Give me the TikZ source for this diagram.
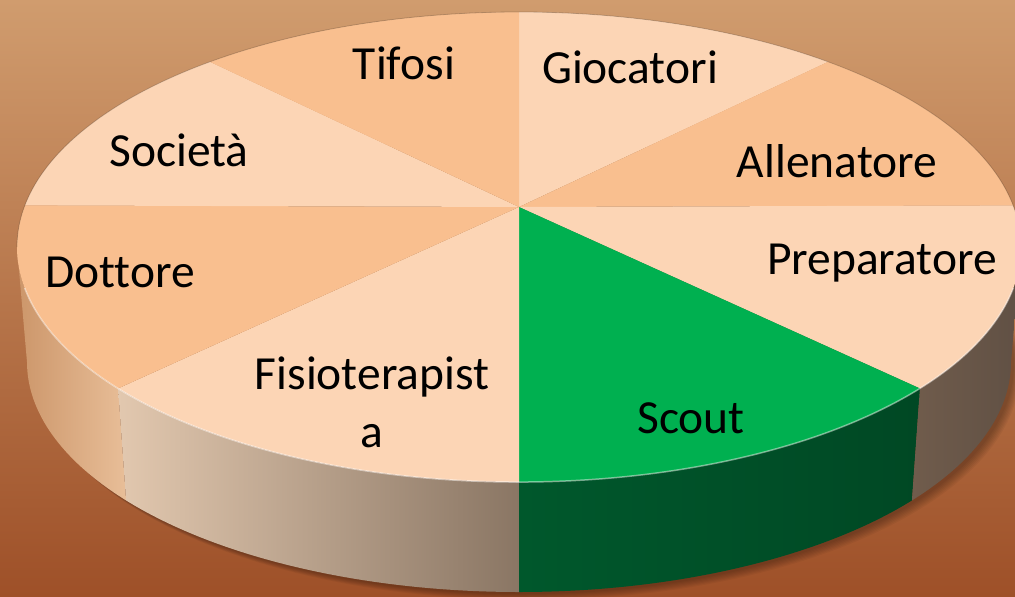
\documentclass[tikz,border=0pt]{standalone}
\usepackage{fontspec}
\setmainfont{Carlito}[Ligatures=NoCommon]
\usetikzlibrary{calc}
\definecolor{bgtop}{RGB}{208,156,110}
\definecolor{bgbot}{RGB}{158,80,40}
\definecolor{lightslice}{RGB}{252,213,181}
\definecolor{darkslice}{RGB}{249,191,143}
\definecolor{greenslice}{RGB}{0,176,80}
\definecolor{sideAl}{RGB}{204,150,106}
\definecolor{sideAr}{RGB}{232,190,152}
\definecolor{sideBl}{RGB}{226,200,175}
\definecolor{sideBr}{RGB}{138,118,100}
\definecolor{sideCl}{RGB}{0,88,44}
\definecolor{sideCr}{RGB}{0,72,36}
\definecolor{sideDl}{RGB}{112,92,76}
\definecolor{sideDr}{RGB}{96,80,68}
\begin{document}
\begin{tikzpicture}[x=1pt,y=-1pt,
  lbl/.style={font=\fontsize{47.5}{58}\selectfont, text=black, inner sep=0pt, anchor=base},
  lightfill/.style={fill=lightslice},
  darkfill/.style={fill=darkslice},
  greenfill/.style={fill=greenslice}]
\useasboundingbox (0,0) rectangle (1015,597);
\shade[top color=bgtop, bottom color=bgbot] (0,0) rectangle (1015,597);

\coordinate (C) at (519,247);
\coordinate (D) at (519,362);
\coordinate (O) at (519,207);
\coordinate (pU)  at ($(C)+(-90:502 and 235)$);
\coordinate (pUR) at ($(C)+(-52:502 and 235)$);
\coordinate (pR)  at ($(C)+(-10.2:502 and 235)$);
\coordinate (pLR) at ($(C)+(37:502 and 235)$);
\coordinate (pD)  at ($(C)+(90:502 and 235)$);
\coordinate (pLL) at ($(C)+(143:502 and 235)$);
\coordinate (pL)  at ($(C)+(190.2:502 and 235)$);
\coordinate (pUL) at ($(C)+(232:502 and 235)$);
\coordinate (pE)  at ($(C)+(0:502 and 235)$);
\coordinate (pW)  at ($(C)+(180:502 and 235)$);
\coordinate (qE)  at ($(D)+(0:492 and 230)$);
\coordinate (qLR) at ($(D)+(37:492 and 230)$);
\coordinate (qD)  at ($(D)+(90:492 and 230)$);
\coordinate (qLL) at ($(D)+(143:492 and 230)$);
\coordinate (qW)  at ($(D)+(180:492 and 230)$);

% shadow
\foreach \i in {1,...,7}
  \fill[black,opacity=0.045] ($(D)+(2+\i,1+\i)$) ellipse[x radius=492, y radius=230];

% side wall
\shade[left color=sideAl, right color=sideAr] (pW) arc[start angle=180,end angle=143,x radius=502,y radius=235] -- (qLL) arc[start angle=143,end angle=180,x radius=492,y radius=230] -- cycle;
\shade[left color=sideBl, right color=sideBr] (pLL) arc[start angle=143,end angle=90,x radius=502,y radius=235] -- (qD) arc[start angle=90,end angle=143,x radius=492,y radius=230] -- cycle;
\shade[left color=sideCl, right color=sideCr] (pD) arc[start angle=90,end angle=37,x radius=502,y radius=235] -- (qLR) arc[start angle=37,end angle=90,x radius=492,y radius=230] -- cycle;
\shade[left color=sideDl, right color=sideDr] (pLR) arc[start angle=37,end angle=0,x radius=502,y radius=235] -- (qE) arc[start angle=0,end angle=37,x radius=492,y radius=230] -- cycle;

% top face
\fill[lightfill] (O) -- (pU)  arc[start angle=-90,end angle=-52,x radius=502,y radius=235] -- cycle;
\fill[darkfill]  (O) -- (pUR) arc[start angle=-52,end angle=-10.2,x radius=502,y radius=235] -- cycle;
\fill[lightfill] (O) -- (pR)  arc[start angle=-10.2,end angle=37,x radius=502,y radius=235] -- cycle;
\fill[greenfill] (O) -- (pLR) arc[start angle=37,end angle=90,x radius=502,y radius=235] -- cycle;
\fill[lightfill] (O) -- (pD)  arc[start angle=90,end angle=143,x radius=502,y radius=235] -- cycle;
\fill[darkfill]  (O) -- (pLL) arc[start angle=143,end angle=190.2,x radius=502,y radius=235] -- cycle;
\fill[lightfill] (O) -- (pL)  arc[start angle=190.2,end angle=232,x radius=502,y radius=235] -- cycle;
\fill[darkfill]  (O) -- (pUL) arc[start angle=232,end angle=270,x radius=502,y radius=235] -- cycle;

% rim accents
\draw[white,opacity=0.45,line width=1.5pt] ($(C)+(170:502 and 235)$) arc[start angle=170,end angle=10,x radius=502,y radius=235];
\draw[black,opacity=0.2,line width=0.8pt] (pW) arc[start angle=180,end angle=360,x radius=502,y radius=235];

% labels
\node[lbl] (tifosi) at (404,79) {Tifosi};
\node[lbl] (giocatori) at (630,83) {Giocatori};
\node[lbl] (societa) at (179,166) {Società};
\node[lbl] (allenatore) at (837,177) {Allenatore};
\node[lbl] (dottore) at (120,287) {Dottore};
\node[lbl] (preparatore) at (882,274) {Preparatore};
\node[lbl,align=center] (fisio) at (372,447) {Fisioterapist\\a};
\node[lbl] (scout) at (691,433) {Scout};
\end{tikzpicture}
\end{document}
